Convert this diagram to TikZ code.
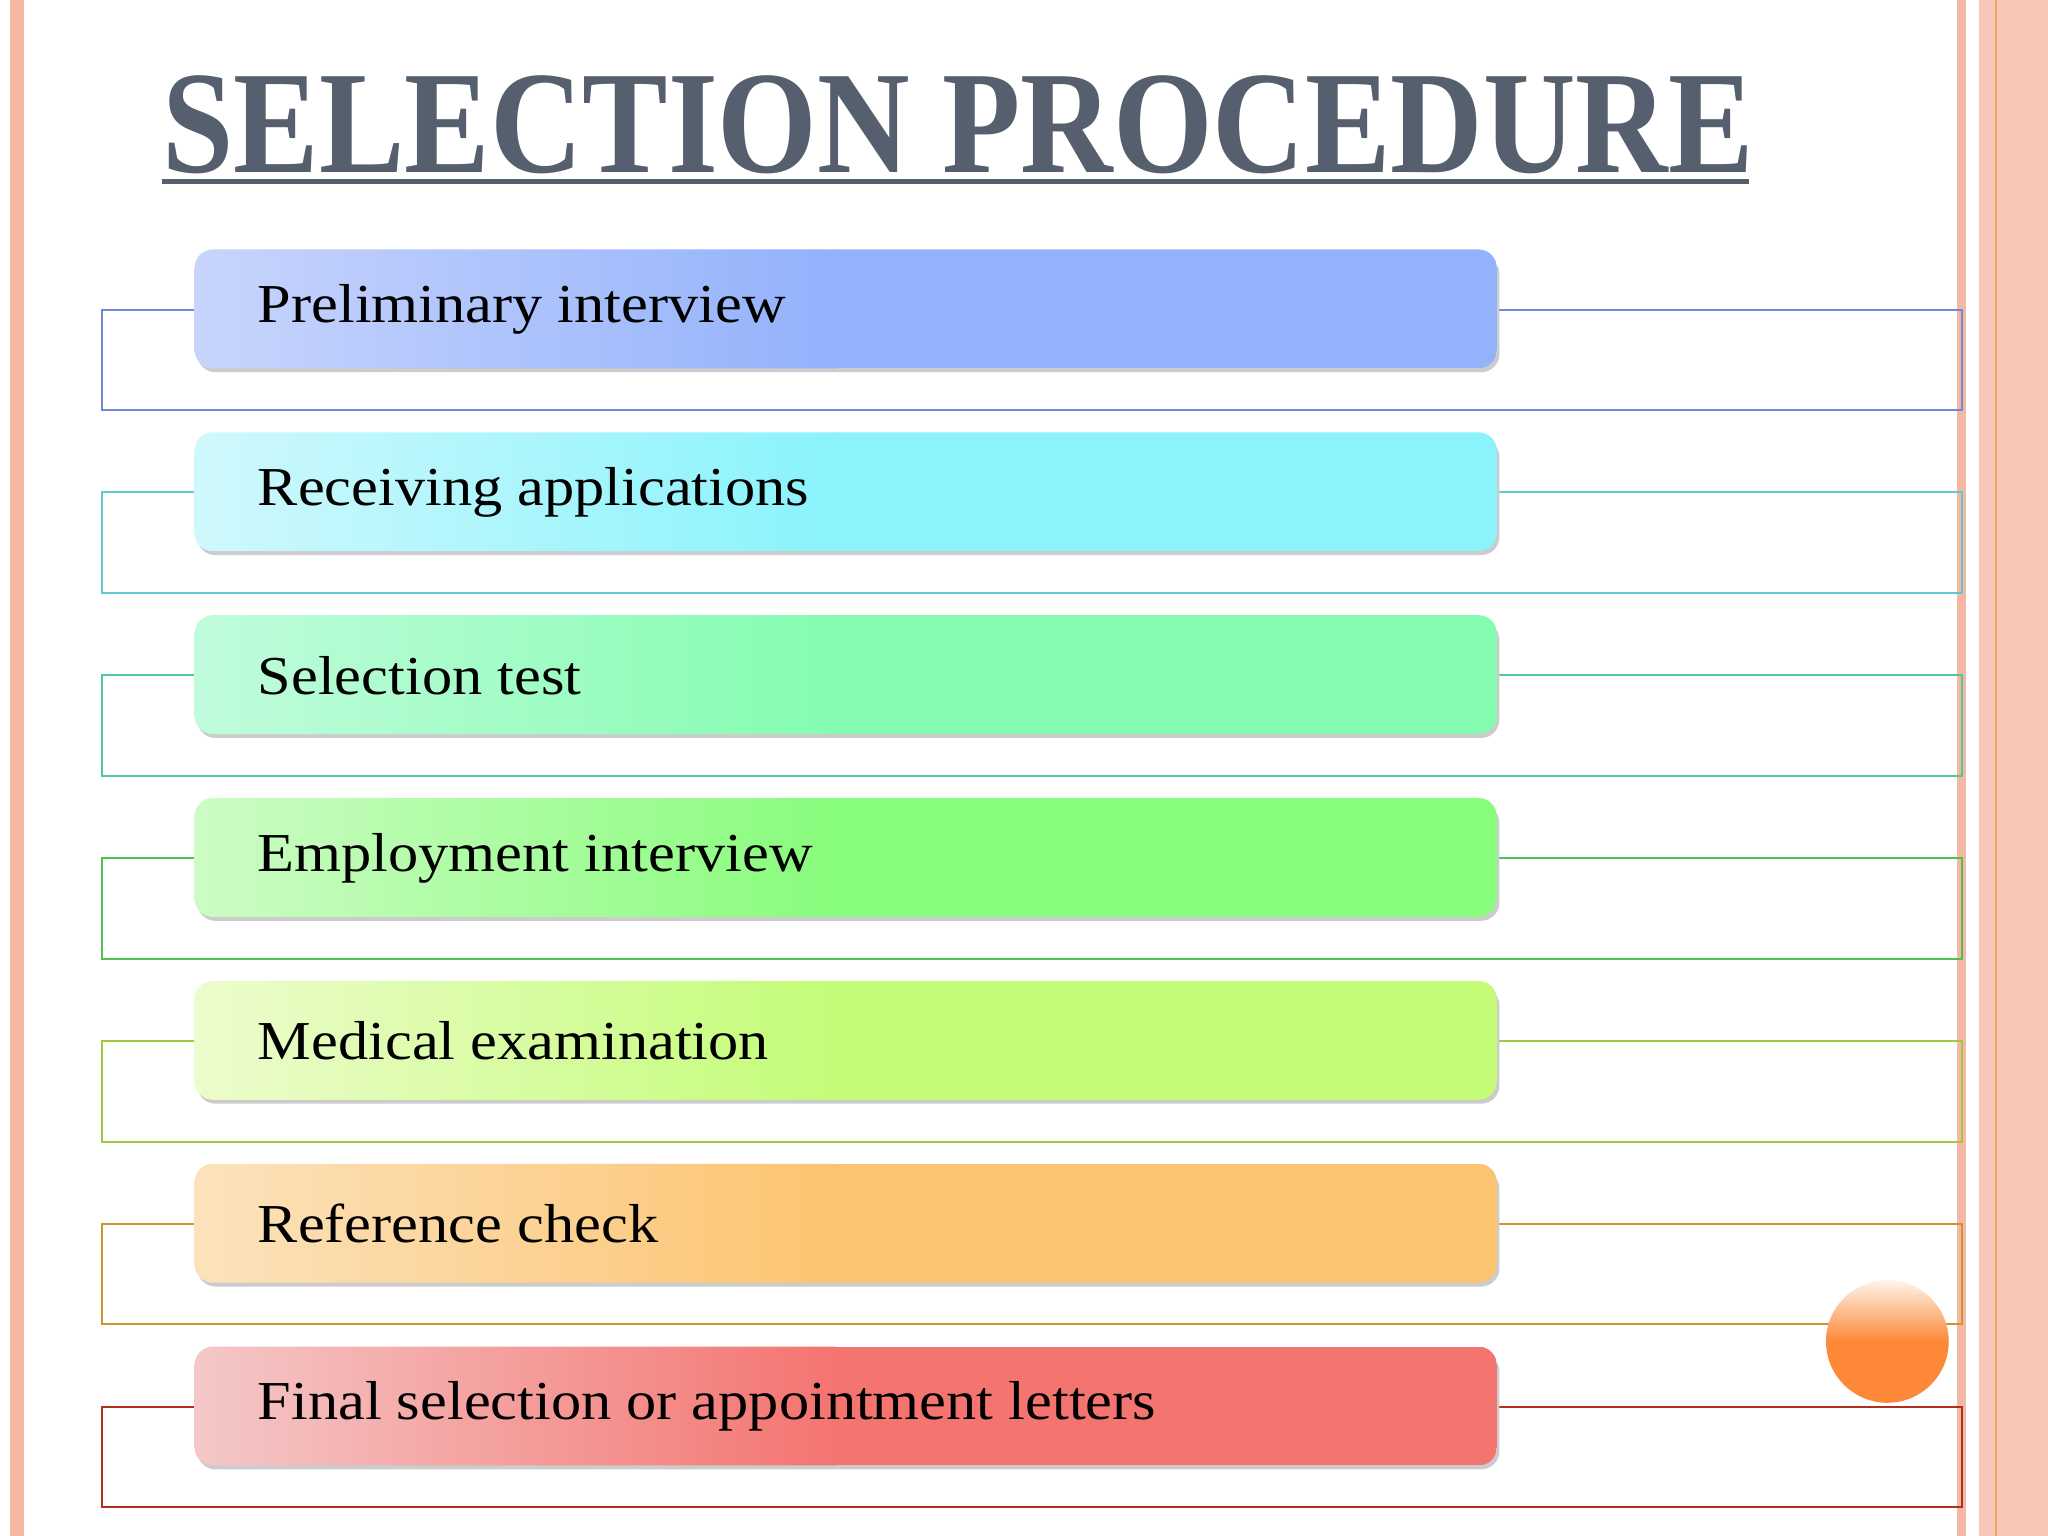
\documentclass[tikz,border=0pt]{standalone}
\usepackage{fontspec}
\usepackage{graphicx}
\setmainfont{Liberation Serif}
\definecolor{titlec}{HTML}{555F6E}
\definecolor{salm}{HTML}{F4B8A4}
\begin{document}
\begin{tikzpicture}[x=0.5pt,y=-0.5pt]
\useasboundingbox (0,0) rectangle (1568,1176);
\fill[white] (0,0) rectangle (1568,1176);
% borders
\fill[salm] (8,0) rectangle (18,1176);
\fill[salm] (1498,0) rectangle (1505,1176);
\fill[salm!80] (1515,0) rectangle (1568,1176);
\draw[salm!60!orange, line width=0.6pt] (1528,0) -- (1528,1176);
% title
\node[anchor=base west, inner sep=0, text=titlec, font=\fontsize{56}{60}\selectfont\bfseries] (title) at (124,132) {\scalebox{0.876}[1]{SELECTION PROCEDURE}};
\draw[titlec, line width=2pt] (124,139) -- (1339,139);
\foreach \i/\txt/\la/\lb/\lc in {
0/Preliminary interview/C8D4FC/93B2FC/7088D8,
1/Receiving applications/CFF8FC/8AF3FC/60C8D0,
2/Selection test/C0FCDC/84FCB0/50C898,
3/Employment interview/CCFCC4/88FC7C/50C050,
4/Medical examination/ECFCCC/C4FC78/A0C840,
5/Reference check/FCE2BC/FCC470/C89830,
6/Final selection or appointment letters/F4C8C8/F47470/B03020}{
  \pgfmathsetmacro{\yt}{191+140*\i}
  \definecolor{ca}{HTML}{\la}\definecolor{cb}{HTML}{\lb}\definecolor{cl}{HTML}{\lc}
  \draw[cl, line width=0.8pt] (149,\yt+46) -- (78,\yt+46) -- (78,\yt+123) -- (1502,\yt+123) -- (1502,\yt+46) -- (1146,\yt+46);
  \fill[black!20, rounded corners=7pt] (151,\yt+5) rectangle (1148,\yt+94);
  \begin{scope}
    \clip[rounded corners=7pt] (149,\yt) rectangle (1146,\yt+91);
    \shade[left color=ca, right color=cb] (149,\yt) rectangle (640,\yt+91);
    \fill[cb] (639,\yt) rectangle (1146,\yt+91);
  \end{scope}
  \node[anchor=west, inner sep=0, font=\fontsize{21}{24}\selectfont] (t\i) at (197,\yt+46) {\scalebox{1.1}[1]{\txt}};
}
% orange circle
\shade[top color=orange!8, bottom color={rgb,255:red,252;green,136;blue,56}, middle color={rgb,255:red,252;green,136;blue,56}] (1445,1027) circle (47);
\end{tikzpicture}
\end{document}
